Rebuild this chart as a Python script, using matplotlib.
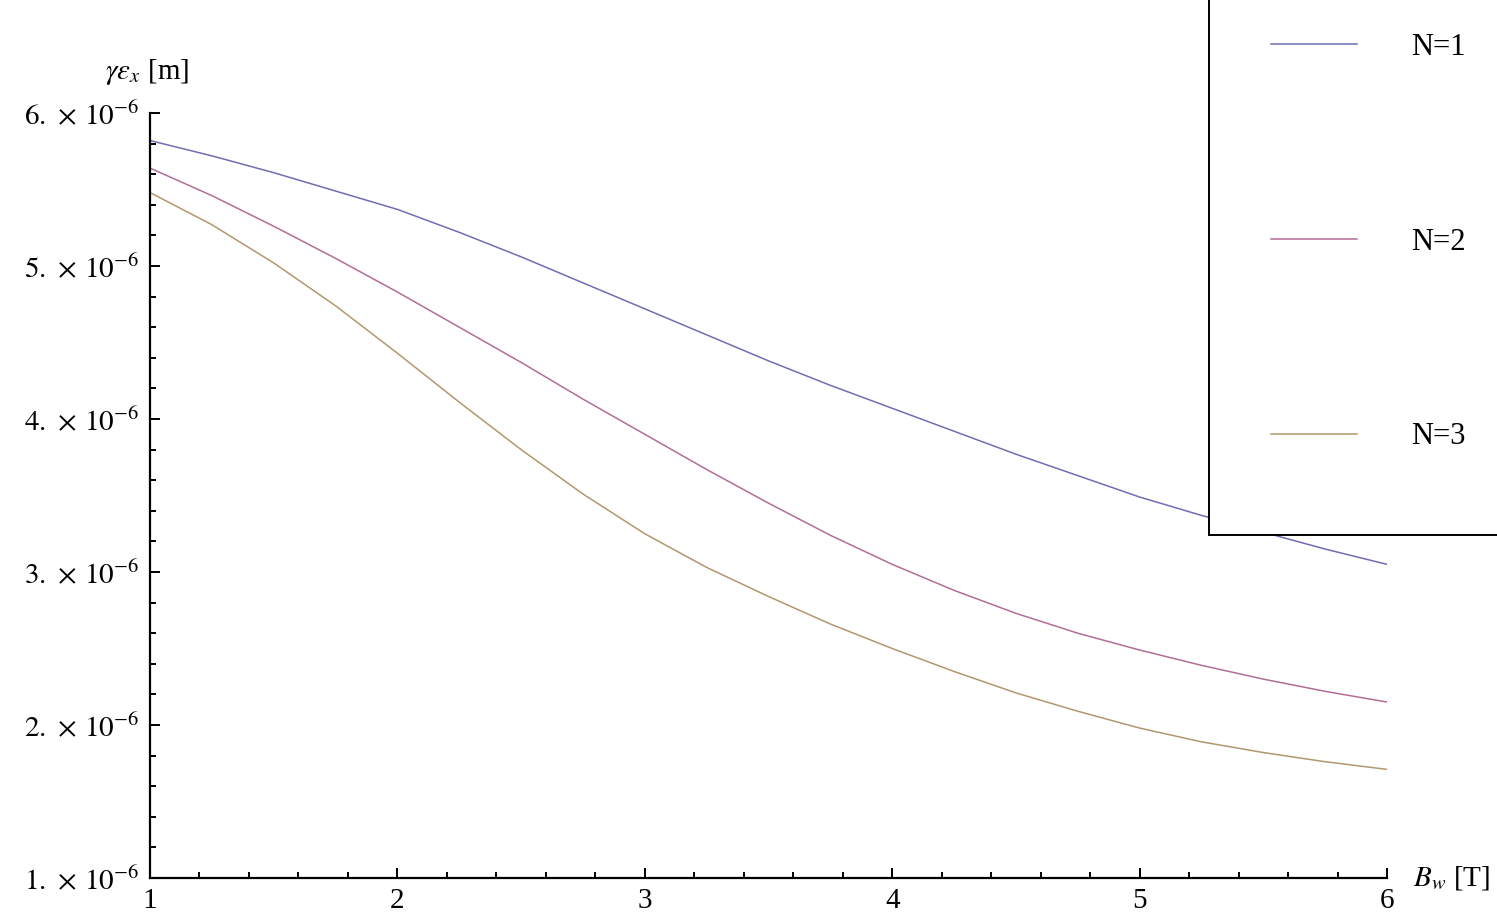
import numpy as np
import matplotlib.pyplot as plt
from matplotlib.patches import Rectangle
from matplotlib.ticker import MultipleLocator, FuncFormatter

# values (emittance in units of 1e-6 m)
b_field = [1.0, 1.25, 1.5, 1.75, 2.0, 2.25, 2.5, 2.75, 3.0, 3.25, 3.5,
           3.75, 4.0, 4.25, 4.5, 4.75, 5.0, 5.25, 5.5, 5.75, 6.0]
emit_n1 = [5.82, 5.72, 5.61, 5.49, 5.37, 5.22, 5.06, 4.89, 4.72, 4.55, 4.38,
           4.22, 4.07, 3.92, 3.77, 3.63, 3.49, 3.37, 3.26, 3.15, 3.05]
emit_n2 = [5.64, 5.46, 5.26, 5.05, 4.83, 4.60, 4.37, 4.13, 3.90, 3.67, 3.45,
           3.24, 3.05, 2.88, 2.73, 2.60, 2.49, 2.39, 2.30, 2.22, 2.15]
emit_n3 = [5.48, 5.27, 5.02, 4.74, 4.43, 4.11, 3.80, 3.51, 3.25, 3.03, 2.84,
           2.66, 2.50, 2.35, 2.21, 2.09, 1.98, 1.89, 1.82, 1.76, 1.71]
labels = ["N=1", "N=2", "N=3"]
colors = ["#3f3d99", "#993d74", "#99743d"]  # Mathematica default hues

plt.rcParams['font.family'] = ['Liberation Serif', 'DejaVu Serif']
plt.rcParams['mathtext.fontset'] = 'stix'

W, H = 1497, 916
fig = plt.figure(figsize=(W / 100, H / 100), dpi=100)
ax = fig.add_axes([150 / W, 38 / H, 1237 / W, 765 / H])

for vals, lab, col in zip([emit_n1, emit_n2, emit_n3], labels, colors):
    ax.plot(b_field, np.array(vals) * 1e-6, color=col, lw=1.1, alpha=0.75, label=lab)

ax.set_xlim(1, 6)
ax.set_ylim(1e-6, 6e-6)

for side in ['top', 'right']:
    ax.spines[side].set_visible(False)
for side in ['left', 'bottom']:
    ax.spines[side].set_linewidth(1.6)

ax.xaxis.set_major_locator(MultipleLocator(1))
ax.xaxis.set_minor_locator(MultipleLocator(0.2))
ax.yaxis.set_major_locator(MultipleLocator(1e-6))
ax.yaxis.set_minor_locator(MultipleLocator(0.2e-6))


def sci_fmt(v, pos):
    return r"$%d.\,\times\,10^{-6}$" % round(v * 1e6)


ax.yaxis.set_major_formatter(FuncFormatter(sci_fmt))
ax.tick_params(which='both', direction='in', width=1.4, labelsize=21)
ax.tick_params(which='major', length=7)
ax.tick_params(which='minor', length=4)
ax.tick_params(axis='x', pad=7)
ax.tick_params(axis='y', pad=8)

ax.text(-0.036, 1.054, r"$\gamma\epsilon_x$ [m]", transform=ax.transAxes,
        ha='left', va='center', fontsize=21)
ax.text(1.021, 0.0, r"$B_w$ [T]", transform=ax.transAxes,
        ha='left', va='center', fontsize=21)

# legend box runs off the top and right edges of the picture
box = Rectangle((1209 / W, 1 - 535 / H), 0.5, 1.0, transform=fig.transFigure,
                facecolor='white', edgecolor='black', linewidth=1.4, zorder=4)
fig.patches.append(box)

handles, labs = ax.get_legend_handles_labels()
leg = fig.legend(handles, labs, loc='upper left',
                 bbox_to_anchor=(1271 / W, 1 - 33 / H), borderaxespad=0, borderpad=0,
                 fontsize=22, handlelength=2.8, handletextpad=1.8,
                 labelspacing=5.42, frameon=False)
leg.set_zorder(5)

fig.savefig('out.png', dpi=100)
